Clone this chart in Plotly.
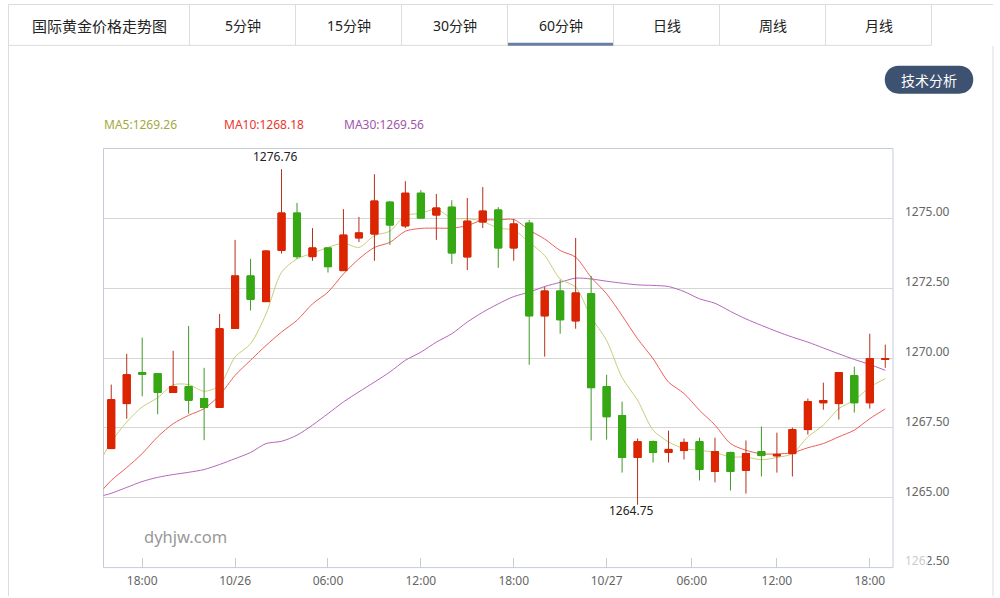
import plotly.graph_objects as go

# 60 minute candles
candle_open = [1266.76, 1268.37, 1269.48, 1269.44, 1268.77, 1268.98, 1268.55, 1268.23, 1271.06, 1272.94,
               1272.02, 1273.85, 1275.19, 1273.63, 1273.94, 1273.13, 1274.30, 1274.44, 1275.58, 1274.73,
               1275.90, 1275.12, 1275.40, 1273.62, 1274.87, 1275.30, 1273.94, 1274.83, 1271.51, 1272.40,
               1271.33, 1272.30, 1268.98, 1267.94, 1266.44, 1267.01, 1266.62, 1266.69, 1267.01, 1265.94,
               1266.62, 1265.98, 1266.65, 1266.50, 1266.58, 1267.44, 1268.40, 1268.37, 1269.37, 1268.40, 1269.95]
candle_close = [1268.51, 1269.40, 1269.42, 1268.77, 1268.98, 1268.49, 1268.23, 1271.05, 1272.94, 1272.10,
                1273.83, 1275.19, 1273.63, 1273.94, 1273.27, 1274.40, 1274.48, 1275.62, 1274.76, 1275.90,
                1275.01, 1275.37, 1273.76, 1274.90, 1275.26, 1273.94, 1274.80, 1271.51, 1272.40, 1271.37,
                1272.33, 1268.94, 1267.90, 1266.44, 1267.01, 1266.62, 1266.73, 1266.98, 1266.01, 1266.65,
                1265.94, 1266.58, 1266.51, 1266.55, 1267.44, 1268.44, 1268.48, 1269.48, 1268.40, 1269.98, 1269.98]
candle_high = [1269.05, 1270.15, 1270.73, 1269.46, 1270.26, 1271.15, 1269.65, 1271.58, 1274.23, 1273.55,
               1273.86, 1276.76, 1275.55, 1274.65, 1273.94, 1275.33, 1275.05, 1276.58, 1275.62, 1276.33,
               1276.01, 1275.87, 1275.65, 1275.73, 1276.12, 1275.40, 1274.98, 1274.94, 1272.55, 1272.80,
               1274.30, 1272.94, 1269.40, 1268.44, 1267.12, 1267.05, 1267.40, 1267.12, 1267.15, 1267.15,
               1266.65, 1267.05, 1267.55, 1267.33, 1267.51, 1268.55, 1269.12, 1269.48, 1269.69, 1270.87, 1270.48]
candle_low = [1266.76, 1267.83, 1268.63, 1267.99, 1268.77, 1268.01, 1267.06, 1268.23, 1271.06, 1271.70,
              1272.02, 1273.74, 1273.55, 1273.48, 1273.06, 1273.13, 1274.15, 1273.48, 1274.05, 1274.65,
              1275.01, 1274.23, 1273.37, 1273.15, 1274.65, 1273.23, 1273.48, 1269.76, 1270.05, 1270.87,
              1271.05, 1267.05, 1267.08, 1265.90, 1264.75, 1266.26, 1266.26, 1266.37, 1265.62, 1265.55,
              1265.26, 1265.15, 1265.76, 1265.90, 1265.76, 1267.26, 1268.15, 1267.80, 1268.05, 1268.19, 1269.65]

# moving averages start one candle before the visible range
ma5 = [1266.00, 1267.00, 1267.71, 1268.25, 1268.58, 1269.04, 1269.05, 1268.81, 1269.02, 1270.04, 1270.51,
       1271.58, 1273.07, 1273.55, 1273.75, 1273.96, 1274.11, 1273.96, 1274.38, 1274.54, 1275.10, 1275.18,
       1275.33, 1275.00, 1274.99, 1274.89, 1274.65, 1274.58, 1274.14, 1273.67, 1272.83, 1272.54, 1271.46,
       1270.63, 1269.30, 1268.49, 1267.42, 1267.00, 1266.76, 1266.70, 1266.62, 1266.46, 1266.46, 1266.36,
       1266.44, 1266.58, 1267.18, 1267.60, 1268.19, 1268.49, 1268.96, 1269.26]
ma10 = [1265.00, 1265.62, 1266.08, 1266.58, 1267.18, 1267.65, 1267.95, 1268.19, 1268.67, 1269.38, 1269.92,
        1270.45, 1270.93, 1271.35, 1271.94, 1272.36, 1273.01, 1273.55, 1273.96, 1274.14, 1274.54, 1274.64,
        1274.65, 1274.65, 1274.74, 1274.94, 1274.94, 1274.96, 1274.58, 1274.26, 1273.85, 1273.61, 1272.89,
        1272.30, 1271.52, 1270.69, 1269.98, 1269.14, 1268.73, 1268.13, 1267.60, 1266.94, 1266.70, 1266.57,
        1266.57, 1266.61, 1266.79, 1266.94, 1267.18, 1267.42, 1267.83, 1268.18]
ma30 = [1265.01, 1265.16, 1265.37, 1265.58, 1265.73, 1265.83, 1265.91, 1266.01, 1266.19, 1266.40, 1266.62,
        1266.94, 1267.02, 1267.24, 1267.60, 1268.01, 1268.43, 1268.79, 1269.14, 1269.50, 1269.92, 1270.21,
        1270.57, 1270.87, 1271.29, 1271.64, 1271.94, 1272.20, 1272.36, 1272.56, 1272.71, 1272.86, 1272.83,
        1272.75, 1272.68, 1272.62, 1272.60, 1272.56, 1272.38, 1272.12, 1271.96, 1271.67, 1271.40, 1271.17,
        1270.95, 1270.75, 1270.57, 1270.36, 1270.15, 1269.95, 1269.77, 1269.56]

x_tick_pos = [2, 8, 14, 20, 26, 32, 37.5, 43, 49]
x_tick_labels = ["18:00", "10/26", "06:00", "12:00", "18:00", "10/27", "06:00", "12:00", "18:00"]
y_ticks = [1262.5, 1265, 1267.5, 1270, 1272.5, 1275]
tab_labels = ["国际黄金价格走势图", "5分钟", "15分钟", "30分钟", "60分钟", "日线", "周线", "月线"]
tab_edges = [8.5, 189.5, 295.5, 401.5, 507.5, 613.5, 719.5, 825.5, 931.5]

W, H = 1000, 598
FONT = "Noto Sans, Noto Sans CJK SC"
RED, GREEN = "#dd2400", "#35a813"
BORDER = "#c5ccd9"
CHROME = "#dcdcdc"


def px(x):
    return x / W


def py(y):
    return 1 - y / H


def chrome_line(x0, y0, x1, y1, color=CHROME, width=1):
    return dict(type="line", xref="paper", yref="paper", x0=px(x0), y0=py(y0), x1=px(x1), y1=py(y1),
                line=dict(color=color, width=width), layer="below")


def label(x, y, text, color="#333333", size=12, anchor="center"):
    return dict(xref="paper", yref="paper", x=px(x), y=py(y), text=text, showarrow=False, xanchor=anchor,
                yanchor="middle", font=dict(family=FONT, size=size, color=color))


idx = list(range(len(candle_open)))
ma_idx = list(range(-1, len(candle_open)))
body_high = [max(o, c) for o, c in zip(candle_open, candle_close)]
body_low = [min(o, c) for o, c in zip(candle_open, candle_close)]

fig = go.Figure()
for name, vals, col in [("MA30", ma30, "#b566bd"), ("MA10", ma10, "#ec5f58"), ("MA5", ma5, "#c9cc7a")]:
    fig.add_trace(go.Scatter(x=ma_idx, y=vals, mode="lines", name=name,
                             line=dict(color=col, width=1, shape="spline", smoothing=0.8)))

# wicks are a darker shade than the bodies, so draw them as their own trace underneath
fig.add_trace(go.Candlestick(x=idx, open=candle_open, high=candle_high, low=candle_low, close=candle_close,
                             whiskerwidth=0, zorder=1,
                             increasing=dict(line=dict(color="#b5301a", width=1), fillcolor=RED),
                             decreasing=dict(line=dict(color="#3c9a25", width=1), fillcolor=GREEN)))
fig.add_trace(go.Candlestick(x=idx, open=candle_open, high=body_high, low=body_low, close=candle_close,
                             whiskerwidth=0, zorder=2,
                             increasing=dict(line=dict(color=RED, width=1), fillcolor=RED),
                             decreasing=dict(line=dict(color=GREEN, width=1), fillcolor=GREEN)))

shapes = [
    chrome_line(8.5, 4.5, 993, 4.5),
    chrome_line(8.5, 45.5, 931.5, 45.5),
    chrome_line(8.5, 4.5, 8.5, 598),
    chrome_line(993, 46, 993, 598),
    chrome_line(508, 44.5, 613.5, 44.5, "#6a7fa6", 3),
    dict(type="rect", xref="paper", yref="paper", x0=px(103.5), x1=px(893), y0=py(569.5), y1=py(149),
         line=dict(color=BORDER, width=1), layer="below"),
    # the 1262.50 label is partly washed out in the source page
    dict(type="rect", xref="paper", yref="paper", x0=px(906), x1=px(928), y0=py(569), y1=py(555),
         fillcolor="white", opacity=0.65, line=dict(width=0), layer="above"),
]
for e in tab_edges:
    shapes.append(chrome_line(e, 4.5, e, 45.5))

# pill behind the button text
pill = (f"M {px(899)} {py(66)} L {px(959)} {py(66)} "
        f"C {px(978)} {py(66)} {px(978)} {py(94)} {px(959)} {py(94)} "
        f"L {px(899)} {py(94)} C {px(880)} {py(94)} {px(880)} {py(66)} {px(899)} {py(66)} Z")
shapes.append(dict(type="path", xref="paper", yref="paper", path=pill, fillcolor="#3d5170", line=dict(width=0)))

annotations = [label((tab_edges[i] + tab_edges[i + 1]) / 2, 26, t, size=15 if i == 0 else 14, color="#222222")
               for i, t in enumerate(tab_labels)]
annotations[0]["x"] = px(99.5)
annotations += [
    label(929, 81, "技术分析", "#ffffff", 14),
    label(102, 125, "MA5:1269.26", "#a5a83e", 12, "left"),
    label(222, 125, "MA10:1268.18", "#e8372c", 12, "left"),
    label(342, 125, "MA30:1269.56", "#a355ab", 12, "left"),
    label(142, 538, "dyhjw.com", "#999999", 16.5, "left"),
    dict(x=11, y=1276.76, text="1276.76", showarrow=False, xshift=-6, yshift=13, yanchor="middle",
         font=dict(family=FONT, size=12, color="#222222")),
    dict(x=34, y=1264.75, text="1264.75", showarrow=False, xshift=-6, yshift=-6, yanchor="middle",
         font=dict(family=FONT, size=12, color="#222222")),
]

fig.update_layout(
    width=W, height=H, autosize=False,
    margin=dict(l=0, r=0, t=0, b=0),
    paper_bgcolor="white", plot_bgcolor="white",
    showlegend=False, boxmode="overlay", boxgap=0.35,
    shapes=shapes, annotations=annotations,
    xaxis=dict(domain=[px(103.5), px(893)], range=[-0.5, 50.5], rangeslider=dict(visible=False),
               tickmode="array", tickvals=x_tick_pos, ticktext=x_tick_labels,
               ticks="inside", ticklen=10, tickcolor=BORDER, tickwidth=1, showgrid=False, zeroline=False,
               ticklabelstandoff=4,
               tickfont=dict(family=FONT, size=12, color="#666666")),
    yaxis=dict(domain=[py(569.5), py(149)], range=[1262.5, 1277.5], side="right",
               tickmode="array", tickvals=y_ticks, tickformat=".2f", ticks="",
               showgrid=True, gridcolor="#d6d6d6", gridwidth=1, zeroline=False,
               ticklabelposition="outside top", ticklabelstandoff=11, ticklabelshift=2,
               tickfont=dict(family=FONT, size=12, color="#666666")),
)

fig.write_html("out.html", config=dict(displayModeBar=False),
               post_script="document.body.style.margin='0';")
